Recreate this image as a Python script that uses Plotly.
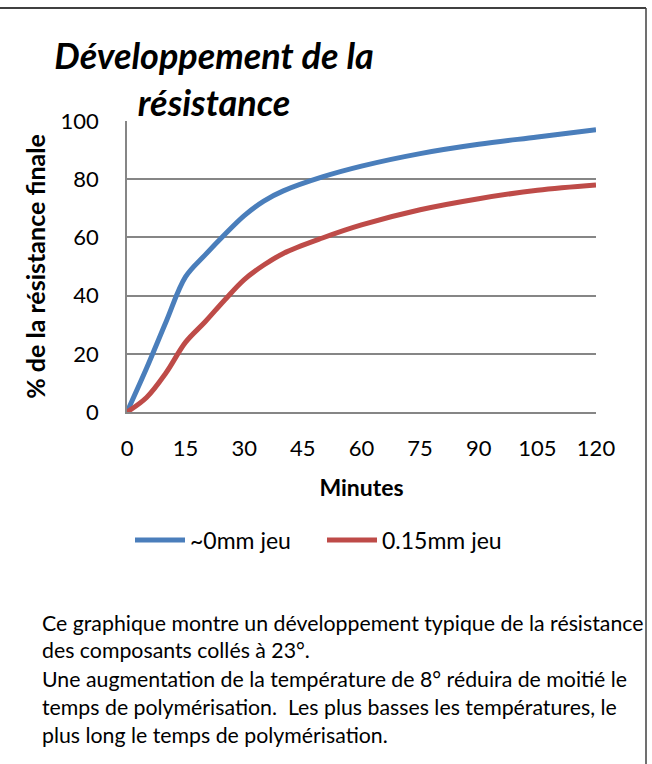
import plotly.graph_objects as go

minutes = [0, 5, 10, 15, 20, 25, 30, 35, 40, 50, 60, 75, 90, 105, 120]
gap_0mm = [0, 15, 31, 46.5, 54, 61, 67.5, 72.5, 76, 80.8, 84.5, 88.8, 92, 94.5, 97]
gap_015mm = [0, 5, 13.5, 24, 31, 38.5, 45.5, 50.5, 54.5, 59.8, 64.3, 69.5, 73.3, 76.2, 78]
series_names = ["~0mm jeu", "0.15mm jeu"]
x_ticks = [0, 15, 30, 45, 60, 75, 90, 105, 120]
y_ticks = [0, 20, 40, 60, 80, 100]
title_text = "Développement de la<br>résistance"
x_title = "Minutes"
y_title = "% de la résistance finale"
note_lines = [
    "Ce graphique montre un développement typique de la résistance",
    "des composants collés à 23°.",
    "Une augmentation de la température de 8° réduira de moitié le",
    "temps de polymérisation.\u00a0 Les plus basses les températures, le",
    "plus long le temps de polymérisation.",
]

FONT = "Lato"
W, H = 652, 764
L, R, T, B = 127, 56, 121, 352
pw, ph = W - L - R, H - T - B

def px(x):
    return (x - L) / pw

def py(y):
    return (H - B - y) / ph

fig = go.Figure()
fig.add_trace(go.Scatter(x=minutes, y=gap_0mm, name=series_names[0], mode="lines",
                         line=dict(color="#4A7EBB", width=5, shape="spline", smoothing=1)))
fig.add_trace(go.Scatter(x=minutes, y=gap_015mm, name=series_names[1], mode="lines",
                         line=dict(color="#BE4B48", width=5, shape="spline", smoothing=1)))

fig.update_layout(
    width=W, height=H,
    margin=dict(l=L, r=R, t=T, b=B, autoexpand=False),
    paper_bgcolor="white", plot_bgcolor="white",
    font=dict(family=FONT, size=22, color="black"),
    title=dict(text="<b><i>" + title_text + "</i></b>", font=dict(family=FONT, size=36, color="black"),
               x=px(214), xref="paper", xanchor="center", y=(H - 69) / H, yref="container", yanchor="middle"),
    showlegend=True,
    legend=dict(orientation="h", x=px(322), xanchor="center", y=py(540), yanchor="middle",
                font=dict(family=FONT, size=23, color="black"), itemwidth=50, entrywidth=127,
                bgcolor="rgba(0,0,0,0)"),
)
fig.update_xaxes(range=[0, 120], tickvals=x_ticks, showgrid=False, zeroline=False,
                 showline=True, linecolor="#868686", linewidth=1.5, ticks="",
                 ticklabelstandoff=16, tickfont=dict(size=22),
                 title=dict(text="<b>" + x_title + "</b>", font=dict(size=23), standoff=20),
                 fixedrange=True)
fig.update_yaxes(range=[0, 100], tickvals=y_ticks, showgrid=True, gridcolor="#868686", gridwidth=1.5,
                 zeroline=False, showline=True, linecolor="#868686", linewidth=1.5, ticks="",
                 ticklabelstandoff=22, tickfont=dict(size=22),
                 title=dict(text="<b>" + y_title + "</b>", font=dict(size=25), standoff=8),
                 fixedrange=True)

# chart border (top and right)
fig.add_shape(type="line", xref="paper", yref="paper", x0=px(0), x1=px(646), y0=py(8), y1=py(8),
              line=dict(color="#404040", width=2))
fig.add_shape(type="line", xref="paper", yref="paper", x0=px(646), x1=px(646), y0=py(8), y1=py(764),
              line=dict(color="#404040", width=1.5))

line_y = [623, 650, 679, 707, 735]
for txt, yy in zip(note_lines, line_y):
    fig.add_annotation(text=txt, xref="paper", yref="paper", x=px(40), y=py(yy), xanchor="left",
                       yanchor="middle", showarrow=False, font=dict(family=FONT, size=21.3, color="black"))

fig.write_html("out.html", config={"displayModeBar": False},
               post_script="document.body.style.margin='0';")
